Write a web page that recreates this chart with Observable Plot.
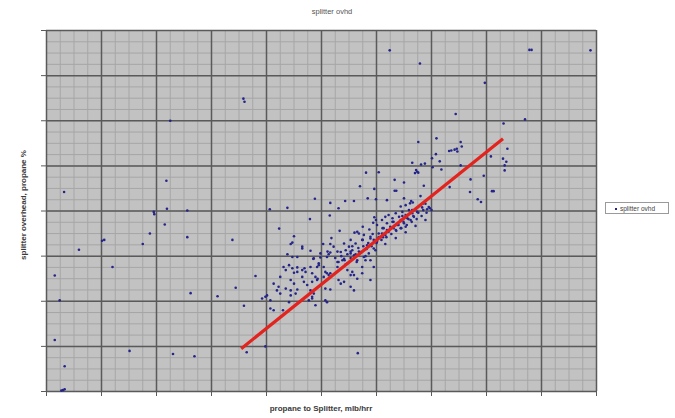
<!DOCTYPE html>
<html>
<head>
<meta charset="utf-8">
<script src="https://cdn.jsdelivr.net/npm/d3@7"></script>
<script src="https://cdn.jsdelivr.net/npm/@observablehq/plot@0.6"></script>
<style>
  html, body { margin: 0; padding: 0; background: #fff; }
  #wrap { position: relative; width: 675px; height: 418px; font-family: "Liberation Sans", Arial, sans-serif; }
  #wrap svg { position: absolute; left: 0; top: 0; }
  .lbl { position: absolute; color: #3a3a3a; white-space: nowrap; text-align: center; }
</style>
</head>
<body>
<div id="wrap"></div>
<script>
// ---- texts ----
const chartTitle = "splitter ovhd";
const xLabel = "propane to Splitter, mlb/hrr";
const yLabel = "splitter overhead, propane %";
const seriesName = "splitter ovhd";

// ---- axis ticks (no tick labels shown in the original) ----
const xMajor = [0, 10, 20, 30, 40, 50, 60, 70, 80, 90, 100];
const yMajor = [0, 1, 2, 3, 4, 5, 6, 7, 8];

// ---- scatter data: [propane to splitter, overhead propane %] ----
const points = [
  [21.8,4.67],[3.2,4.42],[19.5,3.98],[19.6,3.93],[21.9,4.05],[25.6,4.01],[21.5,3.70],[18.8,3.50],
  [17.5,3.27],[25.6,3.42],[10.1,3.34],[10.5,3.36],[5.9,3.14],[12.0,2.76],[1.5,2.57],[26.2,2.18],
  [31.1,2.11],[2.4,2.02],[1.5,1.14],[15.1,0.90],[23.0,0.83],[26.9,0.78],[3.3,0.56],[2.7,0.02],
  [3.0,0.03],[3.3,0.05],[22.5,6.00],[35.8,6.49],[36.0,6.42],[62.4,7.56],[67.9,7.27],[88.2,7.57],
  [87.8,7.57],[98.9,7.56],[79.7,6.84],[74.4,6.15],[83.1,5.94],[87.0,6.03],[33.8,3.36],
  [58.1,4.85],[60.4,4.86],[57.0,4.55],[59.6,4.49],[48.8,4.27],[51.6,4.18],[54.3,4.22],[55.9,4.22],
  [58.4,4.28],[59.9,4.26],[40.6,4.04],[43.8,4.07],[53.1,4.06],[51.5,3.90],[47.9,3.82],[42.3,3.61],
  [45.0,3.44],[53.3,3.56],[51.8,3.40],[56.5,3.54],[56.0,3.52],[56.8,3.50],[57.5,3.65],[58.7,3.59],
  [59.6,3.86],[59.9,3.80],[59.4,3.74],[60.1,3.69],[58.9,3.43],
  [67.6,5.53],[70.9,5.61],[75.3,5.53],[75.5,5.43],[73.2,5.33],[73.6,5.34],[74.2,5.36],[74.6,5.38],
  [74.7,5.32],[70.8,5.26],[70.1,5.17],[71.5,5.10],[80.8,5.21],[83.8,5.38],[83.0,5.16],[83.6,5.09],
  [83.3,5.01],[83.3,4.90],[66.5,5.07],[68.1,5.03],[68.8,5.05],[75.3,5.01],[70.2,4.97],[71.8,4.92],
  [67.2,4.91],[67.4,4.87],[67.0,4.84],[67.6,4.85],[79.5,4.78],[63.3,4.69],[65.0,4.63],[77.1,4.70],
  [68.6,4.56],[73.3,4.53],[63.3,4.45],[63.6,4.45],[77.0,4.42],[81.0,4.44],[81.3,4.44],[65.0,4.28],
  [68.0,4.33],[78.4,4.26],[79.0,4.20],[61.9,4.24],[66.3,4.22],[66.6,4.19],[66.1,4.17],[68.9,4.16],
  [64.4,4.10],[65.3,4.13],[68.3,4.08],[69.2,4.04],[69.7,4.06],[61.2,3.42],
  [61.0,3.80],[61.6,3.87],[62.2,3.91],[62.9,3.84],[63.5,3.95],[64.1,3.87],[64.7,3.98],[65.3,3.91],
  [65.9,4.02],[66.5,3.95],[67.1,4.04],[61.9,3.73],[62.5,3.65],[63.1,3.76],[63.8,3.69],[64.4,3.80],
  [65.0,3.73],[65.6,3.84],[66.2,3.80],[61.3,3.62],[62.2,3.54],[63.5,3.58],[64.4,3.62],[61.0,3.50],
  [65.3,3.65],[66.8,3.87],[67.4,3.98],
  [44.7,3.30],[44.4,3.27],[46.5,3.21],[43.8,3.04],[48.0,3.12],[50.3,3.27],[51.6,3.27],[51.1,3.10],
  [51.6,3.08],[51.3,3.04],[49.8,2.97],[48.5,2.94],[52.9,2.87],[54.1,2.94],[55.0,3.21],[55.3,3.10],
  [55.9,3.02],[44.1,2.80],[45.6,2.75],[46.5,2.69],[46.9,2.73],[49.2,2.76],[49.5,2.80],[50.4,2.76],
  [50.7,2.65],[51.0,2.62],[51.3,2.58],[51.6,2.62],[45.0,2.63],[48.3,2.62],[48.9,2.54],[49.3,2.50],
  [54.7,2.69],[55.6,2.65],[55.9,2.58],[56.5,2.50],[57.4,2.62],[53.1,2.47],[53.5,2.39],[54.1,2.43],
  [38.0,2.56],[44.4,2.47],[45.0,2.39],[46.8,2.43],[47.4,2.36],[34.4,2.30],[42.2,2.32],[41.9,2.24],
  [42.5,2.17],[44.4,2.24],[45.3,2.17],[45.6,2.26],[48.0,2.24],[48.6,2.17],[48.3,2.10],[50.7,2.28],
  [51.6,2.26],[55.3,2.32],[55.9,2.24],[58.9,2.47],[40.1,2.13],[39.2,2.06],[44.1,1.98],[47.7,2.02],
  [48.3,2.06],[50.7,2.02],[51.0,1.98],[35.9,1.90],[40.7,1.84],[41.3,1.80],[43.0,1.80],[48.9,1.91],
  [39.8,1.00],[36.4,0.87],[56.6,0.85],
  [55.3,3.36],[56.2,3.28],[57.4,3.36],[58.3,3.24],[58.9,3.39],[59.5,3.17],[60.1,3.32],[61.0,3.43],
  [54.4,3.13],[55.3,3.06],[56.8,3.10],[57.7,2.98],[58.6,3.06],[56.5,2.91],[53.8,2.91],[52.9,2.76],
  [58.9,2.91],[59.5,2.76],[61.9,3.58],[61.6,3.47],[60.4,3.50],[57.7,3.47],[54.1,3.28],[52.9,3.10],
  [52.2,3.21],[49.8,3.06],[49.5,2.84],[48.6,2.95],[51.0,2.98],[48.0,2.76],[47.1,2.65],[45.6,2.98],
  [50.4,2.54],[54.7,2.84],[57.4,2.76],[58.0,2.91],[55.3,2.58],[43.5,2.28],[44.4,2.13],[40.7,2.02],
  [39.8,2.10],[46.5,2.54],[48.3,2.43],[49.2,2.47],[45.6,2.65],[44.7,2.73],[43.5,2.69],[42.5,2.54],
  [41.3,2.39],[44.7,2.98],[46.5,3.17],[43.1,2.76],
  [52.5,2.96],[53.1,2.87],[53.6,3.00],[54.2,2.91],[54.7,3.04],[55.3,2.96],[55.6,3.13],[56.2,3.04],
  [56.7,3.18],[57.1,3.09],[57.6,3.22],[58.2,3.16],[58.5,3.29],[59.1,3.22],[59.5,3.36],[60.0,3.29],
  [60.4,3.42],[60.9,3.36],[61.3,3.49],[61.8,3.42],[62.2,3.56],[62.7,3.49],[63.1,3.62],[63.6,3.56],
  [64.0,3.69],[64.5,3.62],[64.9,3.76],[65.5,3.69],[65.8,3.82],[66.4,3.76],[66.7,3.89],[67.3,3.82],
  [67.6,3.96],[68.2,3.89],[68.5,4.02],[69.1,3.96],[69.5,4.09],[70.0,4.02],[54.4,2.82],[56.4,2.87],
  [58.0,3.00],[59.8,3.13],[61.6,3.27],[63.5,3.40],[65.3,3.53],[67.1,3.67],[68.9,3.80],[53.5,3.09],
  [55.6,3.22],[57.5,3.36],[59.3,3.49],[61.1,3.62],[62.9,3.76],[64.7,3.89],[66.5,4.02],[68.4,4.16]
];

// ---- linear trend line end points ----
const trendX = [35.4, 83.0];
const trendY = [0.95, 5.60];

// derived tables
const dots = points.map(([x, y]) => ({x, y}));
const trend = trendX.map((x, i) => ({x, y: trendY[i]}));
const xMinor = d3.range(0, 100.001, 2.5);
const yMinor = d3.range(0, 8.001, 0.25);

const chart = Plot.plot({
  width: 675,
  height: 418,
  marginLeft: 46,
  marginRight: 79,
  marginTop: 30,
  marginBottom: 27,
  style: {background: "transparent", fontFamily: "Liberation Sans, Arial, sans-serif"},
  x: {domain: [0, 100]},
  y: {domain: [0, 8]},
  marks: [
    Plot.frame({fill: "#c2c2c2", stroke: null}),
    Plot.gridX(xMinor, {stroke: "#a6a6a6", strokeOpacity: 1, strokeWidth: 1}),
    Plot.gridY(yMinor, {stroke: "#a6a6a6", strokeOpacity: 1, strokeWidth: 1}),
    Plot.gridX(xMajor, {stroke: "#5a5a5a", strokeOpacity: 1, strokeWidth: 1.5}),
    Plot.gridY(yMajor, {stroke: "#5a5a5a", strokeOpacity: 1, strokeWidth: 1.5}),
    Plot.axisX(xMajor, {tickSize: 5, tickFormat: () => "", stroke: "#5a5a5a", label: null}),
    Plot.axisY(yMajor, {tickSize: 5, tickFormat: () => "", stroke: "#5a5a5a", label: null}),
    Plot.dot(dots, {x: "x", y: "y", r: 1.3, fill: "#24248a", stroke: null}),
    Plot.line(trend, {x: "x", y: "y", stroke: "#e3231e", strokeWidth: 3.2, strokeLinecap: "butt"})
  ]
});

const wrap = document.getElementById("wrap");
wrap.appendChild(chart);

function addLabel(text, css) {
  const d = document.createElement("div");
  d.className = "lbl";
  d.textContent = text;
  Object.assign(d.style, css);
  wrap.appendChild(d);
  return d;
}
addLabel(chartTitle, {left: "0px", width: "664px", top: "7px", fontSize: "7.5px", lineHeight: "10px", color: "#555"});
addLabel(xLabel, {left: "46px", width: "550px", top: "404px", fontSize: "8px", fontWeight: "bold", lineHeight: "10px"});
addLabel(yLabel, {left: "-76px", width: "200px", top: "200px", fontSize: "8px", fontWeight: "bold", lineHeight: "10px", transform: "rotate(-90deg)"});

// legend
const leg = document.createElement("div");
Object.assign(leg.style, {
  position: "absolute", left: "605px", top: "202px", width: "64px", height: "12px",
  border: "1px solid #9a9a9a", background: "#fff", fontSize: "6.5px", lineHeight: "12px",
  color: "#444", whiteSpace: "nowrap", boxSizing: "border-box", paddingLeft: "9px"
});
const mk = document.createElement("span");
Object.assign(mk.style, {display: "inline-block", width: "2px", height: "2px", background: "#24248a", marginRight: "3px", verticalAlign: "middle"});
leg.appendChild(mk);
leg.appendChild(document.createTextNode(seriesName));
wrap.appendChild(leg);
</script>
</body>
</html>
